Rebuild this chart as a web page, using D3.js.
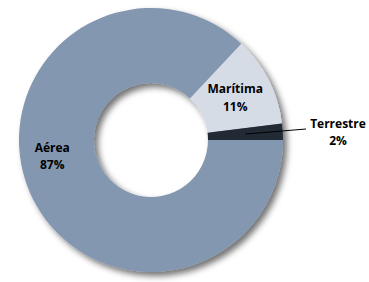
<!DOCTYPE html>
<html>
<head>
<meta charset="utf-8">
<script src="https://cdn.jsdelivr.net/npm/d3@7"></script>
<style>
  body { margin: 0; background: #fff; }
  text { font-family: "Open Sans", "Noto Sans", sans-serif; font-weight: bold; font-size: 12px; fill: #000; }
</style>
</head>
<body>
<div id="chart"></div>
<script>
// Dados
var categories = ["Aérea", "Marítima", "Terrestre"];
var values = [87, 11, 2];
var labels = ["87%", "11%", "2%"];
var colors = ["#8497b0", "#d6dce5", "#222a35"];

(function () {
	'use strict';
	var width = 369, height = 282;
	var cx = 151, cy = 140;
	var outer = 132, inner = 57;

	var svg = d3.select("#chart").append("svg")
		.attr("width", width)
		.attr("height", height);

	// Sombra
	var defs = svg.append("defs");
	var filter = defs.append("filter")
		.attr("id", "shadow")
		.attr("x", "-20%").attr("y", "-20%")
		.attr("width", "140%").attr("height", "140%");
	filter.append("feDropShadow")
		.attr("dx", 4).attr("dy", 4)
		.attr("stdDeviation", 3)
		.attr("flood-color", "#000")
		.attr("flood-opacity", 0.55);

	var data = categories.map(function (c, i) {
		return { name: c, value: values[i], label: labels[i], color: colors[i] };
	});

	var pie = d3.pie()
		.value(function (d) { return d.value; })
		.sort(null)
		.startAngle(Math.PI / 2)
		.endAngle(Math.PI / 2 + 2 * Math.PI);

	var arc = d3.arc().innerRadius(inner).outerRadius(outer);

	var g = svg.append("g")
		.attr("transform", "translate(" + cx + "," + cy + ")");

	var arcs = pie(data);

	g.append("g")
		.attr("filter", "url(#shadow)")
		.selectAll("path")
		.data(arcs)
		.enter()
		.append("path")
		.attr("d", arc)
		.attr("fill", function (d) { return d.data.color; });

	// Rótulos
	var aereaOffset = [-12, -23];
	arcs.forEach(function (d, i) {
		var c = arc.centroid(d);
		var x = c[0], y = c[1];
		if (i === 0) { x += aereaOffset[0]; y += aereaOffset[1]; }
		if (i === 1) { y -= 1; }
		if (i === 2) {
			// rótulo externo com linha guia
			var lx = 155, ly = -11;
			g.append("line")
				.attr("x1", c[0]).attr("y1", c[1])
				.attr("x2", lx).attr("y2", ly)
				.attr("stroke", "#000")
				.attr("stroke-width", 1);
			x = lx + 32; y = ly + 2;
		}
		var t = g.append("text")
			.attr("text-anchor", "middle")
			.attr("x", x).attr("y", y);
		t.append("tspan").attr("x", x).attr("dy", "-0.25em").text(d.data.name);
		t.append("tspan").attr("x", x).attr("dy", "1.45em").text(d.data.label);
	});
}());
</script>
</body>
</html>
